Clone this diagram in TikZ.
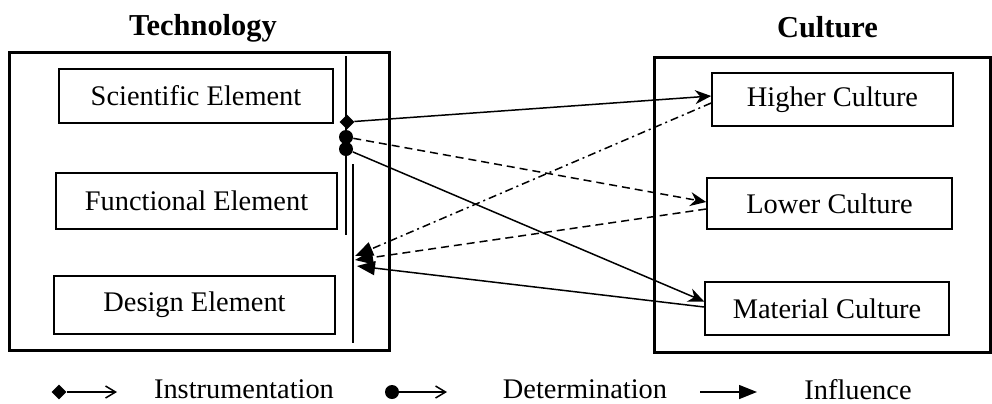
\documentclass[tikz,border=0pt]{standalone}
\usepackage{fontspec}
\setmainfont{Liberation Serif}
\usetikzlibrary{arrows.meta,positioning,shapes.geometric,calc}

\begin{document}
\begin{tikzpicture}[x=0.5pt, y=-0.5pt,
  el/.style={draw, line width=0.8pt, inner sep=0pt, align=center, font=\fontsize{14.2}{17}\selectfont},
  frame/.style={draw, line width=1.5pt, inner sep=0pt},
  ttl/.style={font=\fontsize{15.2}{18}\selectfont\bfseries},
  lgd/.style={font=\fontsize{14.2}{17}\selectfont},
  arr/.style={-{Stealth[length=8pt,width=7pt]}, line width=0.75pt},
  back/.style={-{Triangle[length=9pt,width=7pt]}, line width=0.75pt},
  barb/.style={-{Straight Barb[length=5pt,width=6pt]}, line width=0.75pt},
  dsh/.style={dash pattern=on 4pt off 2.5pt},
  dshdot/.style={dash pattern=on 4pt off 2pt on 1pt off 2pt},
  dot/.style={circle, fill, inner sep=0pt, minimum size=7pt},
  dia/.style={diamond, fill, inner sep=0pt, minimum size=7.5pt}
]
\useasboundingbox (0,0) rectangle (992,403);

% frames and titles
\node[frame, minimum width=190pt, minimum height=149pt] (tech) at (199,201) {};
\node[frame, minimum width=168pt, minimum height=147.5pt] (cult) at (822,204.5) {};
\node[ttl] (techT) at (203,28.5) {Technology};
\node[ttl] (cultT) at (827.5,27) {Culture};

% elements
\node[el, minimum width=137pt, minimum height=27pt] (sci) at (196,96) {Scientific Element};
\node[el, minimum width=140.5pt, minimum height=28pt] (fun) at (196.5,201) {Functional Element};
\node[el, minimum width=140.5pt, minimum height=29pt] (des) at (194.5,305) {Design Element};
\node[el, minimum width=120.5pt, minimum height=26.5pt] (hig) at (832.5,99.5) {Higher Culture};
\node[el, minimum width=122.5pt, minimum height=25.5pt] (low) at (829.5,203.5) {Lower Culture};
\node[el, minimum width=122pt, minimum height=26.5pt] (mat) at (827,308.5) {Material Culture};

% bars and markers
\draw[line width=0.75pt] (346,56) -- (346,235);
\draw[line width=0.75pt] (353,164) -- (353,343);
\node[dia] (ins) at (347,122) {};
\node[dot] (det1) at (346,137) {};
\node[dot] (det2) at (346,149) {};

% end points
\coordinate (hin) at ($(hig.west)+(0,-3.5)$);
\coordinate (lin) at ($(low.west)+(0,-1.5)$);
\coordinate (min) at ($(mat.west)+(0,-7)$);
\coordinate (hout) at ($(hig.west)+(0,3.5)$);
\coordinate (lout) at ($(low.west)+(0,5.5)$);
\coordinate (mout) at ($(mat.west)+(0,-1.5)$);
\coordinate (b1) at (355,256);
\coordinate (b2) at (355,260);
\coordinate (b3) at (357,266);

\foreach \i/\j/\s in {ins/hin/solid, det1/lin/dsh, det2/min/solid}
  \draw[arr, \s] (\i) -- (\j);
\foreach \i/\j/\s in {hout/b1/dshdot, lout/b2/dsh, mout/b3/solid}
  \draw[back, \s] (\i) -- (\j);

% legend
\node[dia] (lgIns) at (59,392) {};
\coordinate (lgInsE) at (117,392);
\draw[barb] (lgIns) -- (lgInsE);
\node[lgd] (lgInsT) at (244,389.5) {Instrumentation};
\node[dot] (lgDet) at (392,392) {};
\coordinate (lgDetE) at (447,392);
\draw[barb] (lgDet) -- (lgDetE);
\node[lgd] (lgDetT) at (585,389.5) {Determination};
\coordinate (lgInfS) at (700,392);
\coordinate (lgInfE) at (757,392);
\draw[back] (lgInfS) -- (lgInfE);
\node[lgd] (lgInfT) at (858,389.5) {Influence};
\end{tikzpicture}
\end{document}
